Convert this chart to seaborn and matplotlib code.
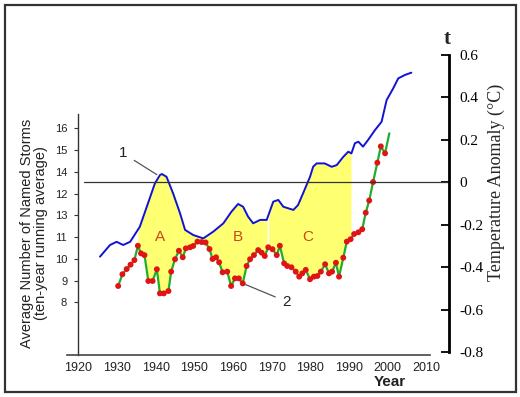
import numpy as np
import matplotlib
matplotlib.use("Agg")
import matplotlib.pyplot as plt
from matplotlib.patches import Rectangle
import seaborn as sns

# ------------------------------
# data
# ------------------------------

# blue curve: temperature anomaly (right axis, deg C)
temp_years = [1925.6, 1928.2, 1929.9, 1931.6, 1933.4, 1935.9, 1937.7, 1939.8, 1941.1, 1941.6,
              1942.8, 1944.5, 1946.3, 1947.6, 1949.7, 1952.3, 1954.9, 1957.5, 1959.6, 1961.3,
              1962.6, 1963.9, 1965.2, 1967.0, 1968.7, 1970.4, 1971.7, 1973.0, 1975.6, 1976.8,
              1978.1, 1979.9, 1980.7, 1981.6, 1983.7, 1985.5, 1986.8, 1988.5, 1989.8, 1990.6,
              1991.5, 1992.4, 1993.6, 1994.9, 1996.7, 1998.4, 1999.7, 2001.4, 2002.7, 2004.4,
              2006.1]
temp_values = [-0.350, -0.295, -0.280, -0.295, -0.280, -0.209, -0.115, -0.005, 0.034, 0.039,
               0.026, -0.052, -0.146, -0.224, -0.248, -0.264, -0.232, -0.193, -0.138, -0.102,
               -0.115, -0.162, -0.193, -0.177, -0.177, -0.091, -0.083, -0.115, -0.130, -0.107,
               -0.052, 0.026, 0.073, 0.089, 0.089, 0.073, 0.081, 0.120, 0.144, 0.136,
               0.184, 0.191, 0.168, 0.199, 0.246, 0.285, 0.387, 0.442, 0.489, 0.505,
               0.516]

# green line / red dots: named storms (left axis)
storm_years = [1930.3, 1931.4, 1932.5, 1933.5, 1934.5, 1935.4, 1936.2, 1937.1, 1938.1, 1939.2,
               1940.3, 1941.1, 1942.1, 1943.3, 1944.0, 1945.0, 1946.0, 1947.0, 1947.8, 1948.9,
               1949.7, 1950.8, 1951.9, 1952.9, 1953.9, 1954.7, 1955.6, 1956.4, 1957.3, 1958.5,
               1959.5, 1960.5, 1961.5, 1962.5, 1963.5, 1964.4, 1965.4, 1966.5, 1967.4, 1968.2,
               1969.1, 1970.2, 1971.3, 1972.1, 1973.2, 1974.0, 1975.1, 1976.2, 1977.1, 1977.9,
               1978.8, 1979.9, 1980.9, 1981.8, 1982.7, 1983.8, 1984.8, 1985.6, 1986.6, 1987.4,
               1988.5, 1989.4, 1990.4, 1991.3, 1992.4, 1993.4, 1994.3, 1995.2, 1996.2, 1997.3,
               1998.2, 1999.3]
storm_values = [8.75, 9.29, 9.53, 9.73, 9.94, 10.60, 10.25, 10.17, 8.98, 8.98,
                9.52, 8.41, 8.41, 8.52, 9.41, 9.98, 10.37, 10.07, 10.48, 10.53,
                10.59, 10.79, 10.77, 10.75, 10.45, 9.99, 10.07, 9.84, 9.38, 9.41,
                8.75, 9.10, 9.10, 8.87, 9.67, 9.98, 10.17, 10.40, 10.28, 10.13,
                10.53, 10.44, 10.17, 10.60, 9.79, 9.67, 9.61, 9.41, 9.18, 9.33,
                9.49, 9.06, 9.18, 9.21, 9.41, 9.75, 9.33, 9.41, 9.82, 9.18,
                10.05, 10.79, 10.90, 11.14, 11.22, 11.36, 12.12, 12.68, 13.53, 14.42,
                15.17, 14.85]
# the green line runs on a little past the last dot
storm_line_end = (2000.4, 15.77)

storm_ticks = [16, 15, 14, 13, 12, 11, 10, 9, 8]
storm_tick_labels = ["16", "15", "14", "12", "13", "11", "10", "9", "8"]
temp_ticks = [0.6, 0.4, 0.2, 0.0, -0.2, -0.4, -0.6, -0.8]
temp_tick_labels = ["0.6", "0.4", "0.2", "0", "-0.2", "-0.4", "-0.6", "-0.8"]
year_ticks = [1920, 1930, 1940, 1950, 1960, 1970, 1980, 1990, 2000, 2010]

region_labels = ["A", "B", "C"]
region_years = [1941.2, 1961.3, 1979.4]
shade_spans = [(1935.4, 1968.8), (1969.2, 1990.5)]

# ------------------------------
# layout
# ------------------------------

sns.set_style("white")
plt.rcParams["font.family"] = ["Liberation Sans", "DejaVu Sans"]

XLIM = (1917.0, 2015.9)
STORM_LIM = (5.577, 19.83)
TEMP_LIM = (-0.8127, 0.6461)


def temp_to_storm(t):
    k = (STORM_LIM[1] - STORM_LIM[0]) / (TEMP_LIM[1] - TEMP_LIM[0])
    return STORM_LIM[0] + (np.asarray(t) - TEMP_LIM[0]) * k


fig = plt.figure(figsize=(5.2, 3.97), dpi=100)
ax = fig.add_axes([0.1283, 0.1058, 0.7357, 0.7808])
ax.patch.set_alpha(0)
ax2 = ax.twinx()

# yellow shading between the two curves
green_x = storm_years + [storm_line_end[0]]
green_y = storm_values + [storm_line_end[1]]
for lo, hi in shade_spans:
    xs = np.linspace(lo, hi, 400)
    g = np.interp(xs, green_x, green_y)
    b = temp_to_storm(np.interp(xs, temp_years, temp_values))
    ax.fill_between(xs, g, b, where=b >= g, interpolate=True,
                    color="#ffff72", lw=0, zorder=1)

# storms
sns.lineplot(x=green_x, y=green_y, ax=ax, color="#1fae2a", lw=1.6,
             sort=False, estimator=None, zorder=2)
sns.scatterplot(x=storm_years, y=storm_values, ax=ax, color="#e01414",
                s=18, edgecolor="none", zorder=3)

# temperature
sns.lineplot(x=temp_years, y=temp_values, ax=ax2, color="#1212d6", lw=1.4,
             sort=False, estimator=None)
ax2.axhline(0, xmin=0.045, xmax=1, color="#333333", lw=0.9)

ax.set_xlim(*XLIM)
ax.set_ylim(*STORM_LIM)
ax2.set_ylim(*TEMP_LIM)
ax.set_xlabel("")
ax.set_ylabel("")
ax2.set_ylabel("")

# spines
ax.spines["top"].set_visible(False)
ax.spines["right"].set_visible(False)
ax.spines["left"].set_position(("data", 1920))
ax.spines["left"].set_bounds(STORM_LIM[0], 16.65)
ax.spines["left"].set_color("#333333")
ax.spines["left"].set_linewidth(1.0)
ax.spines["bottom"].set_bounds(1917, 2011)
ax.spines["bottom"].set_color("#444444")
ax.spines["bottom"].set_linewidth(1.2)
for side in ["top", "left", "bottom"]:
    ax2.spines[side].set_visible(False)
ax2.spines["right"].set_bounds(-0.8, 0.6)
ax2.spines["right"].set_color("black")
ax2.spines["right"].set_linewidth(2)

# ticks
ax.set_yticks(storm_ticks)
ax.set_yticklabels(storm_tick_labels)
ax.tick_params(axis="y", direction="out", length=3, width=0.8, pad=5,
               labelsize=8, colors="#333333", labelcolor="#222222")
ax.set_xticks(year_ticks)
ax.set_xticklabels([str(y) for y in year_ticks])
ax.tick_params(axis="x", direction="inout", length=3, width=3, pad=3.8,
               labelsize=9, colors="#222222")

ax2.set_yticks(temp_ticks)
ax2.set_yticklabels(temp_tick_labels, fontfamily="Liberation Serif")
ax2.tick_params(axis="y", direction="in", length=6, width=1.3, pad=7.5,
                labelsize=11, colors="black")

# region letters and pointers
for lab, yr in zip(region_labels, region_years):
    ax2.text(yr, -0.257, lab, color="#c9471c", fontsize=11, ha="center", va="center")

ax2.annotate("1", xy=(1940.3, 0.036), xytext=(1931.6, 0.136), ha="center", va="center",
             fontsize=11, color="#222222",
             arrowprops=dict(arrowstyle="-", color="#555555", lw=0.9, shrinkA=3, shrinkB=0))
ax.annotate("2", xy=(1962.5, 8.87), xytext=(1973.85, 8.03), ha="center", va="center",
            fontsize=11, color="#222222",
            arrowprops=dict(arrowstyle="-", color="#555555", lw=0.9, shrinkA=3, shrinkB=2))

# axis titles
fig.text(34.5 / 520, 1 - 233.5 / 397,
         "Average Number of Named Storms\n(ten-year running average)",
         rotation=90, ha="center", va="center", fontsize=10.5, linespacing=1.0,
         multialignment="center", color="#222222")
fig.text(496.7 / 520, 1 - 182 / 397, "Temperature Anomaly (\u00b0C)", rotation=90,
         ha="center", va="center", fontsize=13, fontfamily="Liberation Serif")
fig.text(447 / 520, 1 - 39 / 397, "t", ha="center", va="center", fontsize=15,
         fontweight="bold", fontfamily="Liberation Serif")
fig.text(390 / 520, 1 - 382 / 397, "Year", ha="center", va="center", fontsize=11,
         fontweight="bold", color="#222222")

# frame round the whole picture
fig.patches.append(Rectangle((5 / 520, 5 / 397), 511 / 520, 387 / 397,
                             transform=fig.transFigure, fill=False,
                             lw=1.6, ec="#333333"))

fig.savefig("out.png", dpi=100)
